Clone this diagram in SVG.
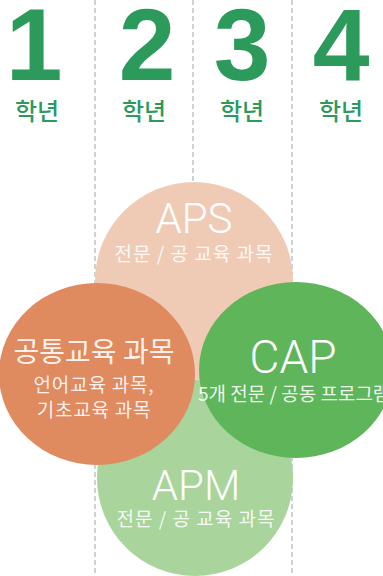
<svg xmlns="http://www.w3.org/2000/svg" width="383" height="576" viewBox="0 0 383 576">
<style>
.num{font-family:"Liberation Sans",Arial,sans-serif;font-weight:bold;font-size:102px;fill:#2b9a5b;text-anchor:middle}
.yr{font-family:"Noto Sans CJK KR","Noto Sans",sans-serif;font-weight:500;font-size:24px;fill:#2b9a5b;text-anchor:middle}
.dash{stroke:#9aa6a8;stroke-width:1;stroke-dasharray:5,3;fill:none}
.big{font-family:Roboto,"Liberation Sans",sans-serif;font-weight:300;fill:#fff;text-anchor:middle}
.sub{font-family:"Noto Sans CJK KR","Noto Sans",sans-serif;font-weight:400;fill:#fff;text-anchor:middle;fill-opacity:0.9}
</style>
<rect width="383" height="576" fill="#ffffff"/>
<g id="grid">
<line class="dash" x1="95" y1="0" x2="95" y2="576"/>
<line class="dash" x1="193" y1="0" x2="193" y2="576"/>
<line class="dash" x1="292" y1="0" x2="292" y2="576"/>
</g>
<g id="years">
<text class="num" x="34" y="80">1</text>
<text class="num" x="147" y="80">2</text>
<text class="num" x="242" y="80">3</text>
<text class="num" x="341" y="80">4</text>
<text class="yr" x="37" y="120">학년</text>
<text class="yr" x="144" y="120">학년</text>
<text class="yr" x="242" y="120">학년</text>
<text class="yr" x="341" y="120">학년</text>
</g>
<g id="aps">
<circle cx="194" cy="281" r="99" fill="#efcbb6"/>
</g>
<g id="apm">
<circle cx="195" cy="478" r="98" fill="#a9d49b"/>
</g>
<g id="common">
<ellipse cx="97" cy="374" rx="98" ry="91" fill="#df8a5f"/>
</g>
<g id="cap">
<ellipse cx="296" cy="370" rx="97" ry="88" fill="#5fb55a"/>
</g>
<g id="labels">
<text class="big" x="194" y="233" font-size="42">APS</text>
<text class="sub" x="194" y="261" font-size="19" letter-spacing="1">전문 / 공 교육 과목</text>
<text class="sub" x="94" y="362" font-size="28" fill-opacity="1">공통교육 과목</text>
<text class="sub" x="94" y="392" font-size="19" letter-spacing="0.8">언어교육 과목,</text>
<text class="sub" x="94" y="417" font-size="19" letter-spacing="0.8">기초교육 과목</text>
<text class="big" x="293" y="373" font-size="46">CAP</text>
<text class="sub" x="198" y="401" font-size="19" style="text-anchor:start">5개 전문 / 공동 프로그램</text>
<text class="big" x="196" y="500" font-size="42">APM</text>
<text class="sub" x="196" y="526" font-size="19" letter-spacing="1">전문 / 공 교육 과목</text>
</g>
</svg>
